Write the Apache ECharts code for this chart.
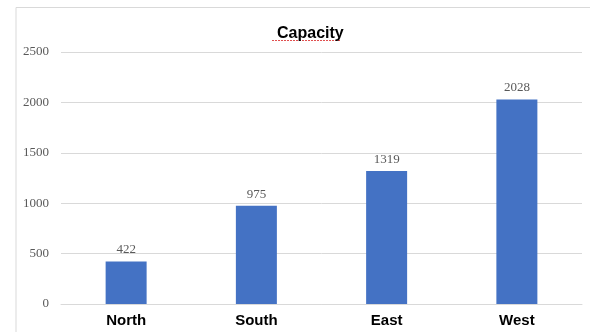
<!DOCTYPE html>
<html><head><meta charset="utf-8">
<script src="https://cdn.jsdelivr.net/npm/echarts@6/dist/echarts.min.js"></script>
<style>html,body{margin:0;padding:0;background:#fff}#c{width:590px;height:332px}</style>
</head><body><div id="c"></div>
<script>
var categories = ['North', 'South', 'East', 'West'];
var capacity = [422, 975, 1319, 2028];
var titleText = 'Capacity';

var chart = echarts.init(document.getElementById('c'), null, {renderer: 'canvas'});
chart.setOption({
  animation: false,
  backgroundColor: '#fff',
  title: {
    text: titleText, left: 272, top: 21,
    textStyle: {fontFamily: 'Liberation Sans', fontWeight: 'bold', fontSize: 16, color: '#000'}
  },
  graphic: [
    {type: 'polyline', shape: {points: [[16, 332], [16, 7.5], [590, 7.5]]},
     style: {stroke: '#d9d9d9', lineWidth: 1, fill: null}, silent: true},
    {type: 'line', shape: {x1: 272, y1: 40.5, x2: 340, y2: 40.5},
     style: {stroke: '#e05050', lineWidth: 1, lineDash: [2, 1]}, silent: true}
  ],
  grid: {left: 61, right: 8, top: 52, bottom: 28},
  xAxis: {
    type: 'category', data: categories,
    axisLine: {show: true, lineStyle: {color: '#d9d9d9'}},
    axisTick: {show: false},
    axisLabel: {fontFamily: 'Liberation Sans', fontWeight: 'bold', fontSize: 15, color: '#000', margin: 9}
  },
  yAxis: {
    type: 'value', min: 0, max: 2500, interval: 500,
    axisLine: {show: false}, axisTick: {show: false},
    splitLine: {lineStyle: {color: '#d9d9d9'}},
    axisLabel: {fontFamily: 'Liberation Serif', fontSize: 13, color: '#595959', margin: 12,
      formatter: function (v) { return String(v); }}
  },
  series: [{
    type: 'bar', data: capacity, barWidth: 41,
    itemStyle: {color: '#4472c4'},
    label: {show: true, position: 'top', distance: 5, fontFamily: 'Liberation Serif', fontSize: 13, color: '#595959'}
  }]
});
</script></body></html>
